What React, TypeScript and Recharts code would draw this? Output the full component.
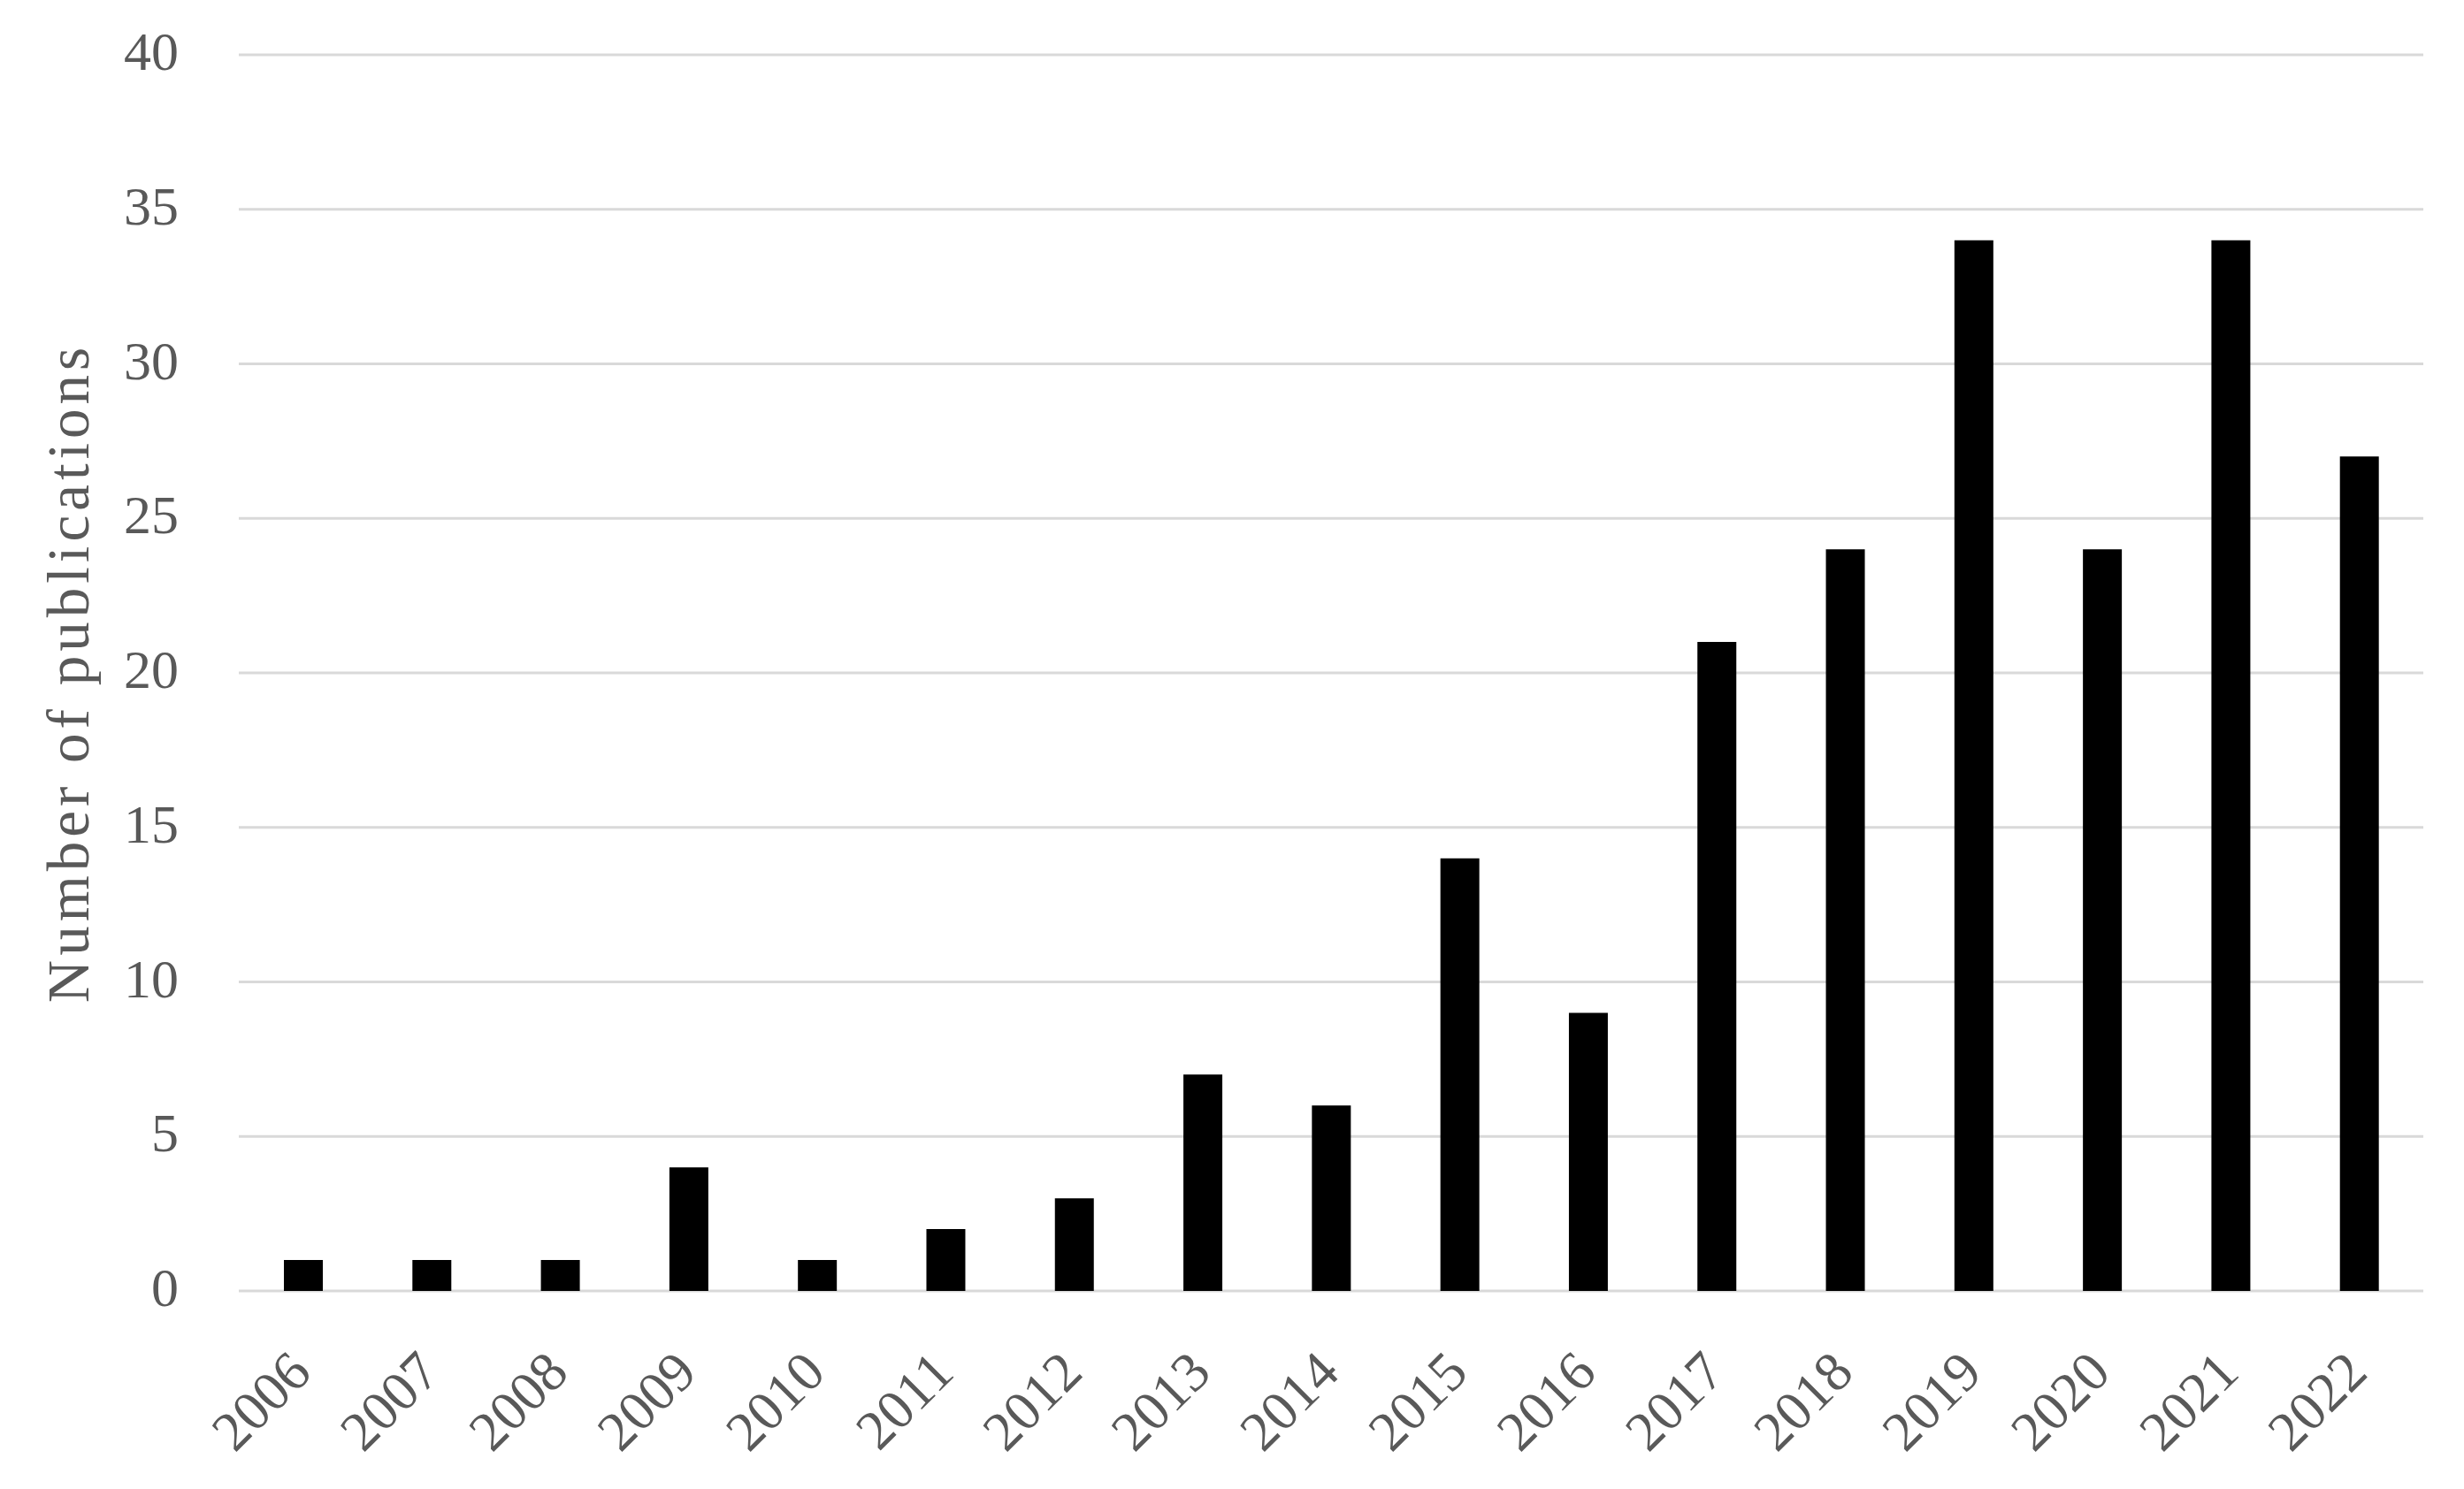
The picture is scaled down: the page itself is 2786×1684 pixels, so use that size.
import { BarChart, Bar, XAxis, YAxis, CartesianGrid, Label } from "recharts";

const years = [
  "2006", "2007", "2008", "2009", "2010", "2011", "2012", "2013", "2014",
  "2015", "2016", "2017", "2018", "2019", "2020", "2021", "2022",
];
const publications = [1, 1, 1, 4, 1, 2, 3, 7, 6, 14, 9, 21, 24, 34, 24, 34, 27];
const yTicks = [0, 5, 10, 15, 20, 25, 30, 35, 40];

const data = years.map((year, i) => ({ year, count: publications[i] }));

const FONT = "'Liberation Serif', 'DejaVu Serif', serif";
const TEXT = "#595959";

function YearTick(props: any) {
  const { x, y, payload } = props;
  const px = x + 12;
  const py = y + 95;
  return (
    <text
      x={px}
      y={py}
      transform={`rotate(-45, ${px}, ${py})`}
      textAnchor="end"
      fill={TEXT}
      fontFamily={FONT}
      fontSize={63}
    >
      {payload.value}
    </text>
  );
}

export default function App() {
  return (
    <div style={{ width: 2786, height: 1684, background: "#fff" }}>
      <style>{"body{margin:0}"}</style>
      <BarChart
        width={2786}
        height={1684}
        data={data}
        margin={{ top: 62, right: 46, bottom: 0, left: 0 }}
        barSize={44}
      >
        <CartesianGrid vertical={false} stroke="#d9d9d9" strokeWidth={3} />
        <XAxis
          dataKey="year"
          height={224}
          axisLine={false}
          tickLine={false}
          tickSize={0}
          tickMargin={0}
          interval={0}
          tick={<YearTick />}
        />
        <YAxis
          domain={[0, 40]}
          ticks={yTicks}
          width={270}
          axisLine={false}
          tickLine={false}
          tickSize={0}
          tickMargin={68}
          tick={{ fill: TEXT, fontFamily: FONT, fontSize: 62, dy: -5 }}
        >
          <Label
            value="Number of publications"
            angle={-90}
            position="insideLeft"
            offset={76}
            textAnchor="middle"
            fill={TEXT}
            fontFamily={FONT}
            fontSize={67}
            letterSpacing={5}
          />
        </YAxis>
        <Bar dataKey="count" fill="#000" isAnimationActive={false} />
      </BarChart>
    </div>
  );
}
